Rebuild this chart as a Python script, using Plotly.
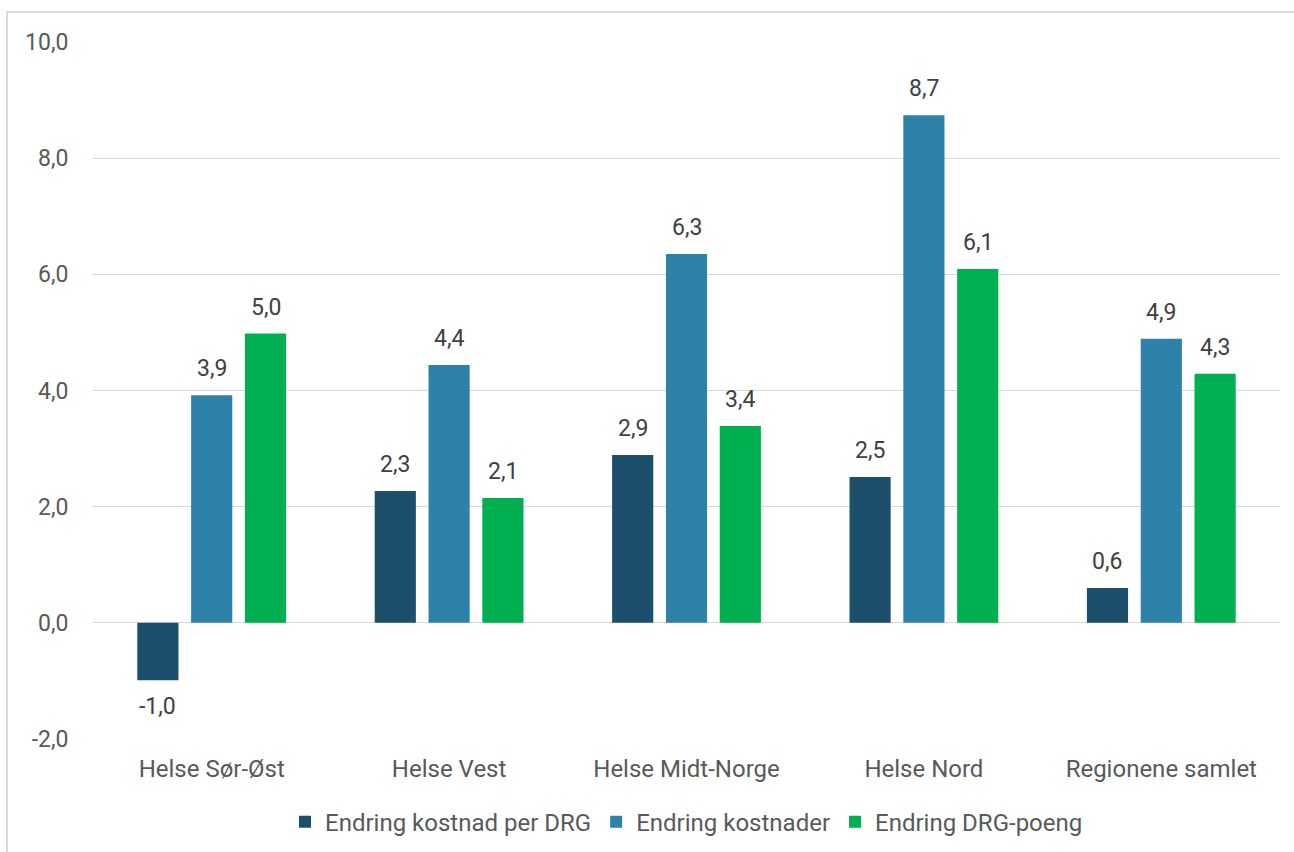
import plotly.graph_objects as go

categories = ["Helse Sør-Øst", "Helse Vest", "Helse Midt-Norge", "Helse Nord", "Regionene samlet"]
series_names = ["Endring kostnad per DRG", "Endring kostnader", "Endring DRG-poeng"]
kostnad_per_drg = [-0.99, 2.27, 2.89, 2.51, 0.60]
kostnader = [3.92, 4.44, 6.35, 8.74, 4.89]
drg_poeng = [4.98, 2.15, 3.39, 6.09, 4.29]
tick_vals = [-2, 0, 2, 4, 6, 8, 10]

colors = ["#1b4f6b", "#2e81a8", "#00b050"]
W, H = 1294, 852
L, R, T, B = 93, 14, 42, 113
BARGAP, GROUPGAP = 0.32, 0.235

def fmt(v):
    return f"{v:.1f}".replace(".", ",")

fig = go.Figure()
all_series = [kostnad_per_drg, kostnader, drg_poeng]
for name, vals, c in zip(series_names, all_series, colors):
    fig.add_trace(go.Bar(
        x=categories, y=vals, name=name, marker_color=c, marker_line_width=0,
    ))

pw = W - L - R
ph = H - T - B
slot = pw / len(categories) * (1 - BARGAP) / len(series_names)
for i, vals in enumerate(all_series):
    off = (i - (len(series_names) - 1) / 2) * slot
    for cat, v in zip(categories, vals):
        fig.add_annotation(
            x=cat, y=v, xref="x", yref="y", text=fmt(v), showarrow=False,
            xshift=off, yshift=11 if v >= 0 else -11,
            yanchor="bottom" if v >= 0 else "top",
            font=dict(size=23, color="#404040", family="Roboto"),
        )

fig.add_shape(type="rect", xref="paper", yref="paper",
              x0=(7 - L) / pw, x1=(W + 20 - L) / pw,
              y0=-(H + 20 - T - ph) / ph, y1=(H - B - 12) / ph,
              line=dict(color="#d9d9d9", width=2), fillcolor="rgba(0,0,0,0)", layer="below")

fig.update_layout(
    width=W, height=H,
    margin=dict(l=L, r=R, t=T, b=B, pad=0, autoexpand=False),
    paper_bgcolor="white", plot_bgcolor="white",
    barmode="group", bargap=BARGAP, bargroupgap=GROUPGAP,
    font=dict(family="Roboto", color="#595959", size=24),
    showlegend=True,
    legend=dict(orientation="h", x=0.5, xanchor="center", y=-0.087, yanchor="top",
                font=dict(size=24, color="#595959"), itemwidth=30, traceorder="normal"),
    xaxis=dict(showline=False, ticks="outside", ticklen=8, tickcolor="rgba(0,0,0,0)",
               tickfont=dict(size=24, color="#595959")),
    yaxis=dict(range=[-2, 10], tickvals=tick_vals, ticktext=[fmt(v) for v in tick_vals],
               showgrid=True, gridcolor="#d9d9d9", gridwidth=1.3,
               zeroline=True, zerolinecolor="#d9d9d9", zerolinewidth=1.3,
               showline=False, ticks="outside", ticklen=19, tickcolor="rgba(0,0,0,0)",
               tickfont=dict(size=23, color="#595959")),
)

fig.write_html("out.html")
